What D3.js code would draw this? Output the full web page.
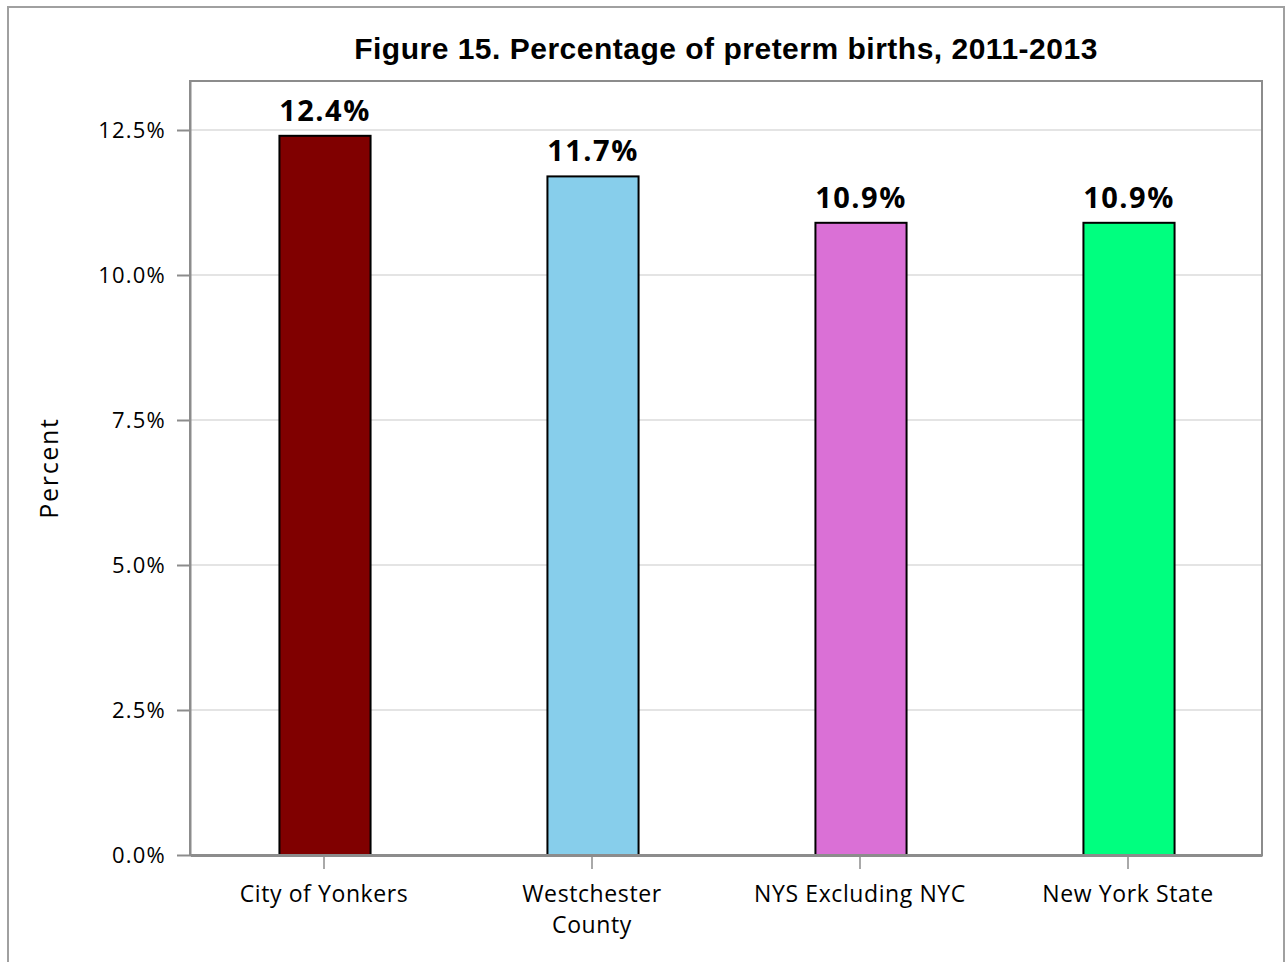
<!DOCTYPE html>
<html>
<head>
<meta charset="utf-8">
<script src="https://cdn.jsdelivr.net/npm/d3@7"></script>
<style>
  body { margin: 0; background: #fff; }
  text { fill: #000; }
</style>
</head>
<body>
<svg id="chart" width="1286" height="962"></svg>
<script>
// data
const categories = [["City of Yonkers"], ["Westchester", "County"], ["NYS Excluding NYC"], ["New York State"]];
const catKeys = ["yonkers", "westchester", "nysExNyc", "nys"];
const values = [12.4, 11.7, 10.9, 10.9];
const barColors = ["#800000", "#87ceeb", "#da70d6", "#00ff7f"];
const yTicks = [0, 2.5, 5, 7.5, 10, 12.5];

let svg = d3.select("#chart");
let margin = {left: 190, top: 81, right: 24, bottom: 107};
let width = +svg.attr("width") - margin.left - margin.right;
let height = +svg.attr("height") - margin.top - margin.bottom;

// outer frame
svg.append("rect")
    .attr("x", 8).attr("y", 7)
    .attr("width", 1276).attr("height", 970)
    .attr("fill", "none")
    .attr("stroke", "#a0a0a0")
    .attr("stroke-width", 2);

let x = d3.scaleBand().domain(catKeys).range([0, width]).paddingInner(0.66).paddingOuter(0.33);
let y = d3.scaleLinear().domain([0, 13.345]).range([height, 0]);

let g = svg.append("g").attr("transform", `translate(${margin.left}, ${margin.top})`);

// gridlines
g.selectAll(".grid")
    .data(yTicks.filter(d => d > 0))
    .enter().append("line")
    .attr("x1", 0).attr("x2", width)
    .attr("y1", d => y(d)).attr("y2", d => y(d))
    .attr("stroke", "#e4e4e4")
    .attr("stroke-width", 2);

// plot frame
g.append("rect")
    .attr("x", 0).attr("y", 0)
    .attr("width", width).attr("height", height)
    .attr("fill", "none")
    .attr("stroke", "#8c8c8c")
    .attr("stroke-width", 2);

// bars
g.selectAll(".bar")
    .data(values)
    .enter().append("rect")
    .attr("class", "bar")
    .attr("x", (d, i) => x(catKeys[i]) + 1)
    .attr("y", d => y(d))
    .attr("width", x.bandwidth())
    .attr("height", d => height - y(d))
    .attr("fill", (d, i) => barColors[i])
    .attr("stroke", "#000")
    .attr("stroke-width", 2);

// value labels
g.selectAll(".val")
    .data(values)
    .enter().append("text")
    .attr("x", (d, i) => x(catKeys[i]) + x.bandwidth() / 2 + 1)
    .attr("y", d => y(d) - 15)
    .attr("text-anchor", "middle")
    .style("font-family", "'Open Sans', sans-serif")
    .style("font-weight", "bold")
    .style("font-size", "29px")
    .style("letter-spacing", "1.5px")
    .text(d => d.toFixed(1) + "%");

// y axis
let yAxis = g.append("g")
    .call(d3.axisLeft(y).tickValues(yTicks).tickSize(13).tickSizeOuter(0).tickPadding(11)
        .tickFormat(d => d.toFixed(1) + "%"));
yAxis.select(".domain").attr("stroke", "#8c8c8c").attr("stroke-width", 2);
yAxis.selectAll(".tick line").attr("stroke", "#8c8c8c").attr("stroke-width", 2);
yAxis.selectAll(".tick text")
    .style("font-family", "'Open Sans', sans-serif")
    .style("font-size", "22px")
    .style("letter-spacing", "1.2px")
    .attr("fill", "#000");

// x axis
let xAxis = g.append("g")
    .attr("transform", `translate(0, ${height})`)
    .call(d3.axisBottom(x).tickSize(14).tickSizeOuter(0).tickFormat(""));
xAxis.select(".domain").attr("stroke", "#8c8c8c").attr("stroke-width", 3);
xAxis.selectAll(".tick line").attr("stroke", "#8c8c8c").attr("stroke-width", 1.5);

xAxis.selectAll(".tick").each(function(d, i) {
    let t = d3.select(this).append("text")
        .attr("text-anchor", "middle")
        .attr("y", 47)
        .attr("fill", "#000")
        .style("font-family", "'Open Sans', sans-serif")
        .style("font-size", "23px")
        .style("letter-spacing", "0.6px");
    categories[i].forEach((line, j) => {
        t.append("tspan").attr("x", 0).attr("dy", j === 0 ? 0 : 31).text(line);
    });
});

// axis title
svg.append("text")
    .attr("transform", `translate(58, ${margin.top + height / 2}) rotate(-90)`)
    .attr("text-anchor", "middle")
    .style("font-family", "'Open Sans', sans-serif")
    .style("font-size", "25px")
    .style("letter-spacing", "1.7px")
    .text("Percent");

// chart title
svg.append("text")
    .attr("x", margin.left + width / 2)
    .attr("y", 59)
    .attr("text-anchor", "middle")
    .style("font-family", "'Liberation Sans', Arial, sans-serif")
    .style("font-weight", "bold")
    .style("font-size", "30px")
    .style("letter-spacing", "0.5px")
    .text("Figure 15. Percentage of preterm births, 2011-2013");
</script>
</body>
</html>
